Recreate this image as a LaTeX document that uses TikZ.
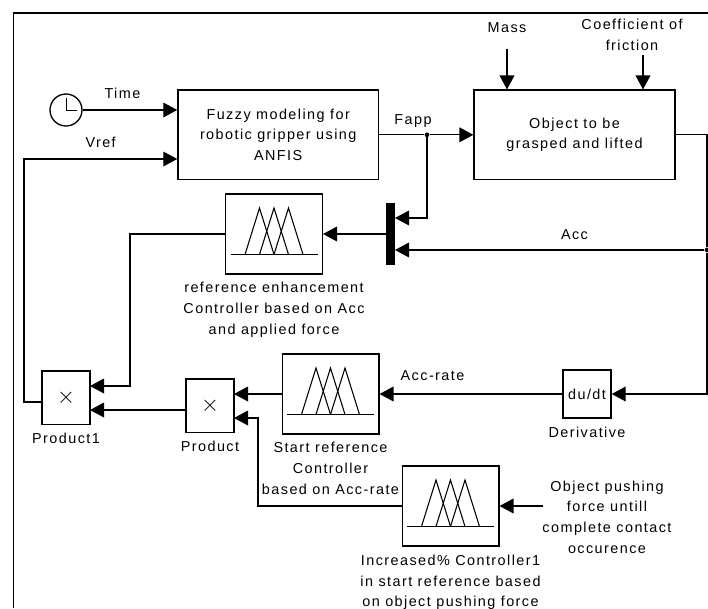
\documentclass[tikz,border=0pt]{standalone}
\usepackage{fontspec}
\setmainfont[LetterSpace=10]{Liberation Sans}
\usetikzlibrary{arrows.meta,positioning}
\tikzstyle{block}=[rectangle,draw=black,line width=1pt,inner sep=0pt,align=center]
\tikzstyle{ctrl}=[block,minimum width=72.5pt,minimum height=60pt]
\tikzstyle{prod}=[block,minimum width=36pt,minimum height=40pt,font=\fontsize{17}{17}\selectfont]
\tikzstyle{lab}=[align=center,inner sep=0pt]
\tikzstyle{sig}=[line width=1pt,-{Triangle[length=10.5pt,width=11pt]}]
\tikzstyle{wire}=[line width=1pt]
\tikzstyle{dot}=[circle,fill=black,inner sep=0pt,minimum size=3.5pt]
\newcommand{\fuzzyicon}[1]{
  \begin{scope}[shift={(#1.center)},line width=.8pt]
    \draw (-43.5,20.5) -- (43.5,20.5);
    \foreach \pk in {-14.5,0,14.5} {
      \draw (\pk-14.5,20.5) -- (\pk,-26) -- (\pk+14.5,20.5);
    }
  \end{scope}
}
\begin{document}
\begin{tikzpicture}[x=.75pt,y=-.75pt,font=\fontsize{10.8}{15.5}\selectfont]
  \useasboundingbox (0,0) rectangle (708,608);
  \draw[line width=1.1pt] (13.5,608) -- (13.5,13) -- (708,13);

  % blocks
  \node[block,minimum width=150.4pt,minimum height=67pt] (fuzzy) at (278.2,134.8) {Fuzzy modeling for\\robotic gripper using\\ANFIS};
  \node[block,minimum width=150.6pt,minimum height=67pt] (object) at (574.5,134.8) {Object to be\\grasped and lifted};
  \node[ctrl] (refctrl) at (274,234) {};
  \node[ctrl] (startctrl) at (330.5,394) {};
  \node[ctrl] (incctrl) at (450.5,506) {};
  \node[prod] (product1) at (66,397.5) {$\times$};
  \node[prod] (product) at (210,405.5) {$\times$};
  \node[block,minimum width=36pt,minimum height=36pt] (deriv) at (587,394) {du/dt};
  \node[rectangle,fill=black,minimum width=7pt,minimum height=46.5pt,inner sep=0pt] (mux) at (390.5,234) {};
  \node[circle,draw=black,line width=1pt,minimum size=24pt,inner sep=0pt] (clock) at (66,110) {};
  \draw[line width=1pt] (66.5,98) -- (66.5,110.5) -- (77,110.5);
  \fuzzyicon{refctrl}
  \fuzzyicon{startctrl}
  \fuzzyicon{incctrl}

  % captions
  \node[lab,below=5.5pt of refctrl] {reference enhancement\\Controller based on Acc\\and applied force};
  \node[lab,below=5.5pt of startctrl] {Start reference\\Controller\\based on Acc-rate};
  \node[lab,below=6pt of incctrl] {Increased\% Controller1\\in start reference based\\on object pushing force};
  \node[lab,below=6pt of product1] {Product1};
  \node[lab,below=6pt of product] {Product};
  \node[lab,below=6pt of deriv] {Derivative};
  \node[lab] (mass) at (507,28) {Mass};
  \node[lab] (friction) at (632,35) {Coefficient of\\friction};
  \node[lab] (pushing) at (607,517) {Object pushing\\force untill\\complete contact\\occurence};

  % helper points
  \coordinate (fapp) at (427,134.8);
  \node[dot] (accdot) at (707,250) {};
  \node[dot] (fappdot) at (fapp) {};
  \coordinate (muxa) at (395,218);
  \coordinate (muxb) at (395,250);
  \coordinate (pa) at (90,386);
  \coordinate (pb) at (90,410);
  \coordinate (qa) at (234,394);
  \coordinate (qb) at (234,418);
  \coordinate (massend) at (507,49);
  \coordinate (fricend) at (643,55);
  \coordinate (vrefx) at (24,159);
  \coordinate (inend) at (543,506);
  \coordinate (refx) at (130,234);
  \coordinate (incx) at (258,506);
  \coordinate (objx) at (707,134.8);

  % connectors
  \path[sig] (clock) edge node[above=4.5pt,pos=.42] {Time} (fuzzy.west |- clock);
  \draw[wire] (fuzzy.east) -- (fappdot);
  \path[sig] (fappdot) edge (object.west);
  \node[lab] at (413,121) {Fapp};
  \draw[sig] (fappdot) |- (muxa);
  \draw[wire] (object.east) -- (objx) -- (accdot);
  \path[sig] (accdot) edge node[above=4pt,pos=.42] {Acc} (muxb);
  \draw[sig] (accdot) |- (deriv.east);
  \path[sig] (massend) edge (massend |- object.north);
  \path[sig] (fricend) edge (fricend |- object.north);
  \path[sig] (mux.west |- refctrl) edge (refctrl.east);
  \draw[sig] (refctrl.west) -- (refx) |- (pa);
  \path[sig] (deriv.west) edge node[above=6pt,pos=.71] {Acc-rate} (startctrl.east);
  \path[sig] (startctrl.west) edge (qa);
  \path[sig] (inend) edge (incctrl.east);
  \draw[sig] (incctrl.west) -- (incx) |- (qb);
  \path[sig] (product.west |- pb) edge (pb);
  \draw[sig] (product1.west |- 0,402) -- (24,402) |- (fuzzy.west |- vrefx) node[pos=.75,above=4.5pt] {Vref};
\end{tikzpicture}
\end{document}
